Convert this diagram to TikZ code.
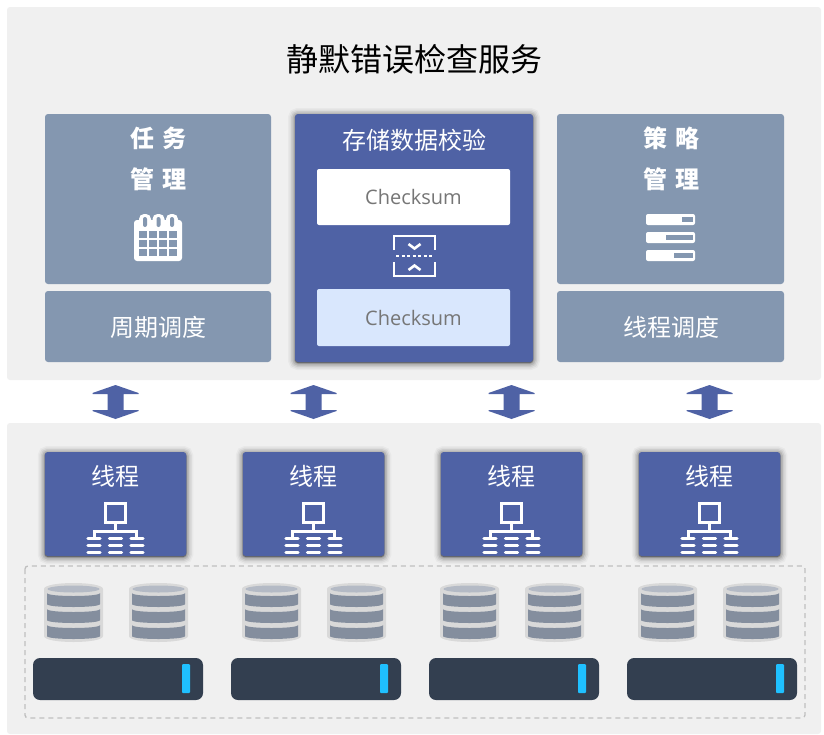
\documentclass[tikz,border=0pt]{standalone}
\usepackage{fontspec}
\setmainfont{Open Sans}
\newfontfamily\cjk{Noto Sans CJK SC}
\usetikzlibrary{shadows}
\definecolor{panelgray}{HTML}{F0F0F0}
\definecolor{slatecard}{HTML}{8497B0}
\definecolor{deepblue}{HTML}{4F62A5}
\definecolor{paleblue}{HTML}{D9E7FD}
\definecolor{textgray}{HTML}{767676}
\definecolor{serverdark}{HTML}{333F50}
\definecolor{servertick}{HTML}{1FC0FF}
\definecolor{dbrim}{HTML}{D9D9D9}
\definecolor{dbtop}{HTML}{B4BAC5}
\definecolor{dbband}{HTML}{848E9E}
\definecolor{dashgray}{HTML}{BFBFBF}
\tikzset{
 box/.style={inner sep=0pt,outer sep=0pt,rounded corners=3pt},
 softglow/.style={general shadow={fill=black,draw=black,opacity=.03,line width=14pt,shadow yshift=-1pt},
  general shadow={fill=black,draw=black,opacity=.05,line width=11pt,shadow yshift=-1pt},
  general shadow={fill=black,draw=black,opacity=.07,line width=8pt,shadow yshift=-1pt},
  general shadow={fill=black,draw=black,opacity=.10,line width=5pt,shadow yshift=-1pt},
  general shadow={fill=black,draw=black,opacity=.13,line width=2pt,shadow yshift=-1pt}},
 label/.style={text=white,font=\cjk\fontsize{24}{24}\selectfont,inner sep=0pt},
 headlabel/.style={label,font=\cjk\bfseries\fontsize{24}{24}\selectfont},
 sumlabel/.style={text=textgray,font=\fontsize{20}{20}\selectfont,inner sep=0pt},
 pics/updown/.style={code={
  \fill[deepblue] (0,-17)--(23,-9)--(23,-8)--(8,-8)--(8,8)--(23,8)--(23,9)--(0,17)
   --(-23,9)--(-23,8)--(-8,8)--(-8,-8)--(-23,-8)--(-23,-9)--cycle;
 }},
 pics/dbstack/.style={code={
  \fill[dbrim] (-29.5,6) .. controls (-29.5,-2) and (29.5,-2) .. (29.5,6) -- (29.5,53)
   .. controls (29.5,61) and (-29.5,61) .. (-29.5,53) -- cycle;
  \fill[dbtop] (0,6) ellipse[x radius=26,y radius=3.5];
  \foreach \t in {10,26,42}
   \fill[dbband] (-26.5,\t) .. controls (-26.5,\t+4) and (26.5,\t+4) .. (26.5,\t) -- (26.5,\t+11)
    .. controls (26.5,\t+15) and (-26.5,\t+15) .. (-26.5,\t+11) -- cycle;
 }},
 pics/netglyph/.style={code={
  \draw[white,line width=3pt] (-10,-23) rectangle (10,-4);
  \draw[white,line width=3pt] (0,-4)--(0,7) (-21,11)--(-21,5)--(21,5)--(21,11);
  \foreach \cx in {-21.5,0,21.5}
   \foreach \cy in {12.5,19.5,26.5}
    \draw[white,line width=3.2pt,line cap=round] (\cx-6,\cy)--(\cx+6,\cy);
 }}
}
\begin{document}
\begin{tikzpicture}[x=1pt,y=-1pt]
 \useasboundingbox (0,0) rectangle (824,734);
 \fill[white] (0,0) rectangle (824,734);
 \node[box,fill=panelgray,minimum width=814pt,minimum height=373pt] (toppanel) at (414,193.5){};
 \node[box,fill=panelgray,minimum width=814pt,minimum height=311pt] (lowpanel) at (414,578.5){};
 \node[inner sep=0pt,font=\cjk\fontsize{32}{32}\selectfont] (title) at (414,59){静默错误检查服务};
 % left column
 \node[box,fill=slatecard,minimum width=226pt,minimum height=170pt] (taskcard) at (158,199){};
 \node[box,fill=slatecard,minimum width=226pt,minimum height=71pt] (cyclecard) at (158,326.5){};
 \node[headlabel] (taskname) at (158.5,138){任\hspace{8pt}务};
 \node[headlabel] (taskmgmt) at (158.5,179){管\hspace{8pt}理};
 \node[label] (cyclename) at (158,327){周期调度};
 \fill[white,rounded corners=3pt] (134,220) rectangle (182,261);
 \foreach \r in {145,158.5,172}{
  \fill[white,rounded corners=5pt] (\r-6,214) rectangle (\r+6,226);
  \fill[slatecard,rounded corners=2pt] (\r-2,217) rectangle (\r+2,227);
 }
 \foreach \c in {0,1,2,3}
  \foreach \w in {0,1,2}
   \fill[slatecard] (139+9.9*\c,231+8.9*\w) rectangle (147.4+9.9*\c,238.4+8.9*\w);
 % right column
 \node[box,fill=slatecard,minimum width=227pt,minimum height=170pt] (policycard) at (670.5,199){};
 \node[box,fill=slatecard,minimum width=227pt,minimum height=71pt] (threadcard) at (670.5,326.5){};
 \node[headlabel] (policyname) at (671,138){策\hspace{8pt}略};
 \node[headlabel] (policymgmt) at (671,179){管\hspace{8pt}理};
 \node[label] (threadname) at (671,327){线程调度};
 \foreach \w/\s in {214/682,232/666,250/674}{
  \fill[white,rounded corners=2pt] (646,\w) rectangle (695,\w+11);
  \fill[slatecard] (\s,\w+3) rectangle (693,\w+8);
 }
 % centre column
 \node[box,fill=deepblue,softglow,minimum width=238pt,minimum height=248pt] (checkcard) at (414,238){};
 \node[label] (checkname) at (414,140){存储数据校验};
 \node[box,rounded corners=2pt,fill=white,minimum width=193pt,minimum height=56pt] (sumone) at (413.5,197){};
 \node[box,rounded corners=2pt,fill=paleblue,minimum width=193pt,minimum height=57pt] (sumtwo) at (413.5,317.5){};
 \node[sumlabel] at (sumone){Checksum};
 \node[sumlabel] at (sumtwo){Checksum};
 \draw[white,line width=2.4pt] (394,250)--(394,236)--(435,236)--(435,250);
 \draw[white,line width=2.4pt] (394,262)--(394,276)--(435,276)--(435,262);
 \draw[white,line width=2.6pt] (408.5,244)--(414.5,248.5)--(420.5,244);
 \draw[white,line width=2.6pt] (408.5,270)--(414.5,265.5)--(420.5,270);
 \draw[white,line width=2.2pt,dash pattern=on 3pt off 2.5pt] (396,256)--(432,256);
 % dashed tray
 \draw[dashgray,line width=1.3pt,dash pattern=on 5pt off 4pt,rounded corners=3pt] (25,566) rectangle (805,718);
 % four workers
 \foreach \i/\dx in {1/0,2/198,3/396,4/594}{
  \pic at (115.5+\dx,402) {updown};
  \node[box,fill=deepblue,softglow,minimum width=141.5pt,minimum height=104pt] (worker\i) at (115.5+\dx,504){};
  \node[label] (workername\i) at (115.5+\dx,476){线程};
  \pic at (115.5+\dx,526) {netglyph};
  \pic at (73.5+\dx,583) {dbstack};
  \pic at (158.5+\dx,583) {dbstack};
  \node[box,rounded corners=7pt,fill=serverdark,minimum width=170pt,minimum height=42pt] (server\i) at (118+\dx,679){};
  \fill[servertick,rounded corners=1pt] (182+\dx,664) rectangle (190+\dx,693);
 }
\end{tikzpicture}
\end{document}
